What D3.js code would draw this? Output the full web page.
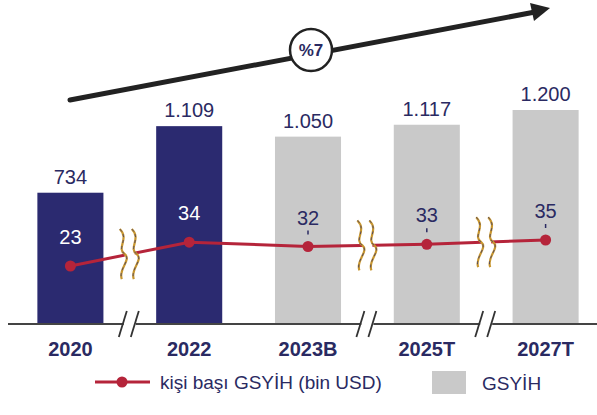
<!DOCTYPE html>
<html><head><meta charset="utf-8">
<script src="https://cdn.jsdelivr.net/npm/d3@7"></script>
<style>html,body{margin:0;padding:0;background:#fff;}svg{display:block;}</style>
</head><body>
<svg id="c" width="597" height="415"></svg>
<script>
const categories = ["2020", "2022", "2023B", "2025T", "2027T"];
const gdpValues = [734, 1109, 1050, 1117, 1200];
const gdpLabels = ["734", "1.109", "1.050", "1.117", "1.200"];
const perCapita = [23, 34, 32, 33, 35];
const actualFlags = [true, true, false, false, false];
const breaks = [["2020", "2022"], ["2023B", "2025T"], ["2025T", "2027T"]];
const growthLabel = "%7";
const legendLine = "kişi başı GSYİH (bin USD)";
const legendBar = "GSYİH";

const navy = "#2b2a70", gray = "#c9c9c9", red = "#b5243a", txt = "#2a2a62";
const font = "'Liberation Sans', Arial, sans-serif";
const svg = d3.select("#c");

const x = d3.scaleBand().domain(categories).range([11, 605]).paddingInner(0.444).paddingOuter(0.222);
const y = d3.scaleLinear().domain([0, 1200]).range([323, 110]);
const yl = d3.scaleLinear().domain([23, 35]).range([266, 240]);
const bw = x.bandwidth();
const cx = c => x(c) + bw / 2;
const base = y(0);

// growth arrow
const g = svg.append("g");
g.append("line").attr("x1", 70).attr("y1", 100).attr("x2", 535).attr("y2", 12)
  .attr("stroke", "#222").attr("stroke-width", 5).attr("stroke-linecap", "round");
g.append("path").attr("d", "M550,8 L530,3 L534,21 Z").attr("fill", "#222");
g.append("circle").attr("cx", 311).attr("cy", 50).attr("r", 21).attr("fill", "#fff")
  .attr("stroke", "#222").attr("stroke-width", 2.5);
g.append("text").attr("x", 311).attr("y", 56).attr("text-anchor", "middle")
  .attr("font-family", font).attr("font-weight", "bold").attr("font-size", 17).attr("fill", txt).text(growthLabel);

// bars
svg.append("g").selectAll("rect").data(categories).join("rect")
  .attr("x", d => x(d)).attr("width", bw)
  .attr("y", (d, i) => y(gdpValues[i])).attr("height", (d, i) => base - y(gdpValues[i]))
  .attr("fill", (d, i) => actualFlags[i] ? navy : gray);

svg.append("g").selectAll("text").data(categories).join("text")
  .attr("x", d => cx(d)).attr("y", (d, i) => y(gdpValues[i]) - 9)
  .attr("text-anchor", "middle").attr("font-family", font).attr("font-size", 20).attr("fill", txt)
  .text((d, i) => gdpLabels[i]);

// axis
svg.append("line").attr("x1", 8).attr("x2", 597).attr("y1", base + 1).attr("y2", base + 1)
  .attr("stroke", "#444").attr("stroke-width", 2);

// line series
const pts = categories.map((c, i) => [cx(c), yl(perCapita[i])]);
svg.append("path").attr("d", d3.line()(pts)).attr("fill", "none").attr("stroke", red).attr("stroke-width", 3);

// line breaks (wavy) and axis breaks
breaks.forEach(([a, b]) => {
  const bx = (x(a) + bw + x(b)) / 2;
  const i = categories.indexOf(a), j = categories.indexOf(b);
  const ly = (yl(perCapita[i]) + yl(perCapita[j])) / 2;
  const wave = (ox) => {
    const p = d3.path();
    p.moveTo(ox - 4, ly - 25);
    p.bezierCurveTo(ox + 6, ly - 15, ox - 8, ly - 6, ox + 1, ly);
    p.bezierCurveTo(ox + 8, ly + 6, ox - 6, ly + 15, ox - 2, ly + 25);
    return p.toString();
  };
  svg.append("rect").attr("x", bx - 5).attr("y", ly - 6).attr("width", 10).attr("height", 12).attr("fill", "#fff");
  [bx - 6, bx + 6].forEach(ox => {
    svg.append("path").attr("d", wave(ox)).attr("fill", "none").attr("stroke", "#c8962e").attr("stroke-width", 2.2);
    svg.append("path").attr("d", wave(ox)).attr("fill", "none").attr("stroke", "#3a3a6a").attr("stroke-width", 0.8).attr("stroke-dasharray", "3,3");
  });
  svg.append("rect").attr("x", bx - 6).attr("y", base - 2).attr("width", 12).attr("height", 6).attr("fill", "#fff");
  [bx - 6, bx + 6].forEach(ox => {
    svg.append("line").attr("x1", ox - 5).attr("y1", base + 14).attr("x2", ox + 3).attr("y2", base - 12)
      .attr("stroke", "#333").attr("stroke-width", 1.8);
  });
});

svg.append("g").selectAll("circle").data(pts).join("circle")
  .attr("cx", d => d[0]).attr("cy", d => d[1]).attr("r", 5.5).attr("fill", red);

// line labels
categories.forEach((c, i) => {
  const p = pts[i];
  svg.append("text").attr("x", p[0]).attr("y", p[1] - 22).attr("text-anchor", "middle")
    .attr("font-family", font).attr("font-size", 20)
    .attr("fill", actualFlags[i] ? "#fff" : txt).text(perCapita[i]);
  if (!actualFlags[i]) {
    svg.append("line").attr("x1", p[0]).attr("x2", p[0]).attr("y1", p[1] - 16).attr("y2", p[1] - 12)
      .attr("stroke", txt).attr("stroke-width", 1.5);
  }
});

// category labels
svg.append("g").selectAll("text").data(categories).join("text")
  .attr("x", d => cx(d)).attr("y", 356).attr("text-anchor", "middle")
  .attr("font-family", font).attr("font-weight", "bold").attr("font-size", 20).attr("fill", txt)
  .text(d => d);

// legend
const lg = svg.append("g");
lg.append("line").attr("x1", 95).attr("x2", 150).attr("y1", 382).attr("y2", 382).attr("stroke", red).attr("stroke-width", 3);
lg.append("circle").attr("cx", 122).attr("cy", 382).attr("r", 5.5).attr("fill", red);
lg.append("text").attr("x", 160).attr("y", 389).attr("font-family", font).attr("font-size", 19).attr("fill", txt).text(legendLine);
lg.append("rect").attr("x", 432).attr("y", 371).attr("width", 34).attr("height", 23).attr("fill", gray);
lg.append("text").attr("x", 482).attr("y", 390).attr("font-family", font).attr("font-size", 19).attr("fill", txt).text(legendBar);
</script>
</body></html>
